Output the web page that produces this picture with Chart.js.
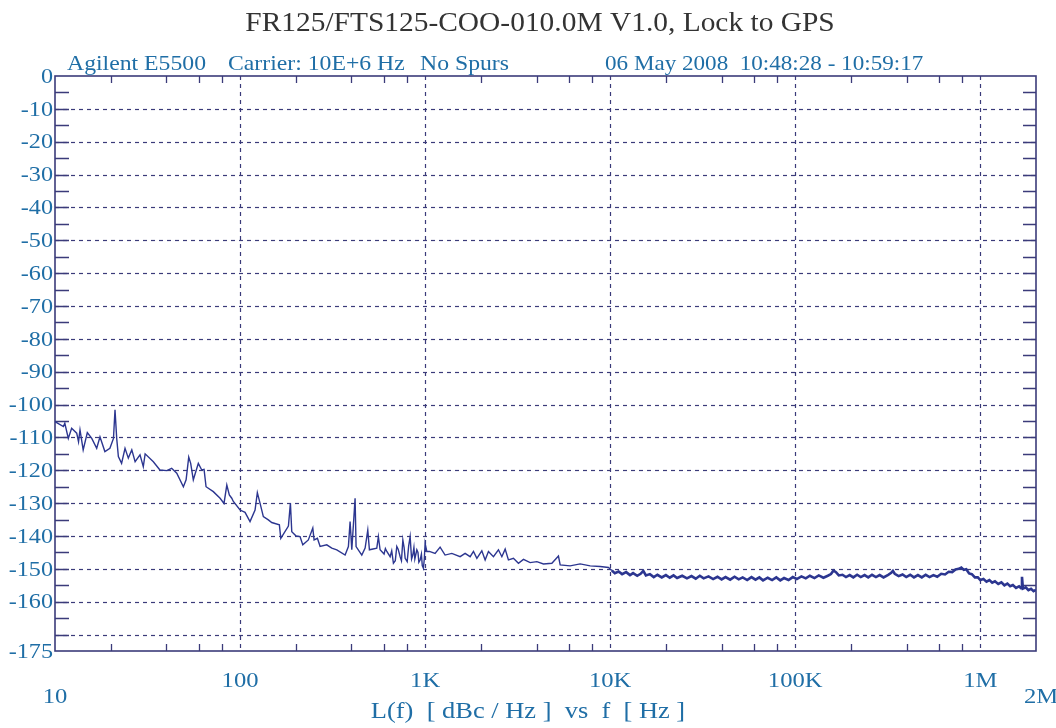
<!DOCTYPE html>
<html>
<head>
<meta charset="utf-8">
<style>
  html, body { margin: 0; padding: 0; background: #ffffff; }
  #wrap { width: 1056px; height: 728px; }
</style>
</head>
<body>
<div id="wrap"><canvas id="noiseChart" width="1056" height="728"></canvas></div>
<script src="https://cdn.jsdelivr.net/npm/chart.js"></script>
<script>
  // phase noise, 10 Hz .. 10 kHz
  const freqLow = [10, 11.1, 11.3, 11.8, 12.3, 13.1, 13.4, 13.65, 14.2, 14.95, 15.8, 16.8, 17.5, 18.6, 19.8, 20.7, 21.1, 21.55, 22.0, 22.9,
    23.9, 24.9, 26.0, 27.1, 28.8, 30.0, 30.7, 34.0, 36.9, 40.2, 42.7, 45.5, 49.4, 51.1, 52.8, 54.1, 55.9, 59.5, 62.1, 63.9,
    65.5, 71.7, 78.0, 81.9, 84.8, 87.5, 90.2, 92, 100, 106.4, 113.2, 120.5, 124.0, 128.2, 133.6, 142.2, 148.3, 163.1, 166, 182.5,
    187.1, 190.3, 200.9, 211, 218.3, 233.9, 247.2, 251.2, 261.8, 270.7, 294.1, 313.1, 333.2, 369.5, 385, 393.2, 401.6, 409.7, 418.4, 423.6,
    454.8, 474, 490, 500, 548, 559, 571, 600, 610, 621, 647, 660, 674, 690, 703, 715, 733, 745, 758, 770,
    780, 800, 815, 830, 845, 858, 870, 880, 902, 915, 925, 940, 955, 965, 979, 990, 1000, 1021, 1055, 1132,
    1205, 1282, 1394, 1546, 1645, 1751, 1825, 1904, 2025, 2110, 2199, 2340, 2490, 2598, 2707, 2820, 3001, 3194, 3400, 3695,
    4016, 4361, 4841, 5254, 5368, 6077, 6883, 7797, 8830, 9790, 10210];
  const dbLow = [-105.2, -106.7, -105.7, -110.3, -107.2, -108.7, -111.3, -107.7, -113.8, -108.5, -110.3, -113.3, -109.8, -114.3, -113.3, -110.3, -101.6, -110.3, -115.8, -117.9,
    -113.3, -116.3, -113.8, -117.4, -115.3, -118.9, -115.0, -117.4, -119.9, -120.1, -119.4, -120.9, -125.0, -122.9, -116.0, -117.9, -122.9, -117.9, -119.9, -119.7,
    -125.0, -126.5, -128.5, -130.1, -124.5, -127.5, -128.5, -129.5, -132.1, -132.8, -135.6, -132.1, -126.8, -130.0, -134.1, -135.1, -135.9, -136.6, -140.7, -137.0,
    -130.0, -138.7, -140.0, -140.2, -142.7, -141.2, -137.6, -141.2, -140.7, -143.2, -142.7, -143.7, -144.2, -145.8, -143.2, -135.6, -144.2, -136.6, -128.5, -143.2,
    -145.8, -143.7, -138.2, -144.2, -143.7, -140.2, -144.2, -145.5, -143.8, -144.7, -146.3, -144.5, -148.3, -147.5, -143.2, -144.0, -146.3, -147.5, -141.2, -143.5,
    -146.8, -147.8, -143.0, -140.2, -147.0, -145.8, -143.5, -147.0, -144.2, -145.0, -148.0, -147.3, -145.5, -149.0, -149.8, -147.0, -142.2, -144.7, -144.7, -145.3,
    -143.4, -145.8, -145.3, -146.3, -145.3, -146.3, -144.7, -146.8, -144.5, -147.3, -144.7, -146.3, -144.2, -146.3, -144.0, -147.3, -146.8, -148.3, -147.1, -148.1,
    -147.8, -148.5, -148.3, -146.1, -148.8, -149.1, -148.5, -149.1, -149.3, -149.6, -150.5];

  // 10 kHz .. 2 MHz, noisy floor
  const freqHigh = [10210, 10600, 11100, 11600, 12200, 12800, 13300, 14000, 14600, 15100, 15600, 16400, 17200, 18000, 19000, 20000, 21000, 22000, 23000, 24500,
    26000, 27500, 29000, 30500, 32000, 34000, 36000, 38000, 40000, 42000, 44500, 47000, 49500, 52000, 55000, 58000, 61000, 64000, 67000, 71000,
    75000, 79000, 83000, 87000, 92000, 97000, 102000, 108000, 114000, 120000, 127000, 134000, 142000, 150000, 156000, 161000, 166000, 172000, 180000, 188000,
    197000, 206000, 216000, 226000, 237000, 248000, 260000, 273000, 286000, 300000, 318000, 330000, 337000, 345000, 362000, 380000, 398000, 418000, 438000, 460000,
    483000, 507000, 532000, 558000, 585000, 615000, 645000, 675000, 705000, 735000, 765000, 790000, 815000, 840000, 870000, 900000, 935000, 970000, 1000000, 1040000,
    1080000, 1120000, 1160000, 1200000, 1250000, 1300000, 1350000, 1400000, 1450000, 1500000, 1560000, 1620000, 1660000, 1680000, 1700000, 1760000, 1820000, 1880000, 1940000, 2000000];
  const dbHigh = [-150.5, -151.3, -150.8, -151.6, -151.0, -151.9, -151.3, -152.1, -151.5, -150.6, -152.0, -151.6, -152.5, -151.8, -152.6, -151.9, -152.7, -152.0, -152.8, -152.1,
    -152.9, -152.2, -153.0, -152.1, -152.9, -152.3, -153.1, -152.4, -153.2, -152.5, -153.3, -152.4, -153.2, -152.6, -153.4, -152.5, -153.3, -152.6, -153.5, -152.7,
    -153.4, -152.6, -153.5, -152.8, -153.4, -152.5, -153.1, -152.3, -152.9, -152.1, -152.8, -152.0, -152.7, -152.1, -151.6, -150.5, -151.0, -152.0, -151.8, -152.5,
    -151.9, -152.6, -151.8, -152.5, -151.9, -152.6, -151.8, -152.5, -151.9, -152.6, -151.8, -151.2, -150.6, -151.5, -152.2, -151.7, -152.5, -151.8, -152.6, -151.9,
    -152.6, -151.8, -152.5, -151.9, -152.4, -151.5, -151.7, -150.9, -151.0, -150.2, -150.0, -149.6, -150.3, -150.1, -151.4, -151.6, -152.6, -152.6, -153.4, -153.1,
    -153.9, -153.4, -154.2, -153.8, -154.6, -154.1, -155.0, -154.5, -155.3, -154.9, -155.8, -155.3, -155.9, -152.4, -156.0, -155.6, -156.5, -156.1, -156.8, -156.4];

  const yTickValues = [0, -10, -20, -30, -40, -50, -60, -70, -80, -90, -100, -110, -120, -130, -140, -150, -160, -175];
  const xTickValues = [10, 100, 1000, 10000, 100000, 1000000, 2000000];
  const xTickText = ["10", "100", "1K", "10K", "100K", "1M", "2M"];

  const titleText = "FR125/FTS125-COO-010.0M V1.0, Lock to GPS";
  const axisTitle = "L(f)  [ dBc / Hz ]  vs  f  [ Hz ]";

  const serif = '"Liberation Serif", "DejaVu Serif", serif';
  const blue = "#1f6ea6";
  const navy = "#3b3b7a";
  const lineColor = "#2c3690";

  function toPoints(xs, ys) {
    return xs.map((x, i) => ({ x: x, y: ys[i] }));
  }

  // the original printout uses a slightly wide serif, so stretch text a bit
  function wideText(ctx, text, x, y, sx) {
    ctx.save();
    ctx.translate(x, y);
    ctx.scale(sx, 1);
    ctx.fillText(text, 0, 0);
    ctx.restore();
  }

  const frame = {
    id: "phaseNoiseFrame",
    beforeDatasetsDraw(chart) {
      const { ctx, chartArea: a, scales } = chart;
      const xs = scales.x, ys = scales.y;
      ctx.save();
      ctx.strokeStyle = navy;
      // dashed grid
      ctx.lineWidth = 1.2;
      ctx.setLineDash([4, 4]);
      for (let v = -10; v >= -170; v -= 10) {
        const py = Math.round(ys.getPixelForValue(v)) + 0.5;
        ctx.beginPath(); ctx.moveTo(a.left, py); ctx.lineTo(a.right, py); ctx.stroke();
      }
      [100, 1000, 10000, 100000, 1000000].forEach(v => {
        const px = Math.round(xs.getPixelForValue(v)) + 0.5;
        ctx.beginPath(); ctx.moveTo(px, a.top); ctx.lineTo(px, a.bottom); ctx.stroke();
      });
      ctx.setLineDash([]);
      // y ticks inside, both sides, every 5 dB
      ctx.lineWidth = 1.5;
      for (let v = -5; v > -175; v -= 5) {
        const py = Math.round(ys.getPixelForValue(v)) + 0.5;
        ctx.beginPath();
        ctx.moveTo(a.left, py); ctx.lineTo(a.left + 14, py);
        ctx.moveTo(a.right, py); ctx.lineTo(a.right - 13, py);
        ctx.stroke();
      }
      // x minor ticks at 2,4,6,8 of each decade
      ctx.lineWidth = 1.3;
      for (let d = 10; d < 2000000; d *= 10) {
        [2, 4, 6, 8].forEach(m => {
          const v = d * m;
          if (v >= 2000000) return;
          const px = Math.round(xs.getPixelForValue(v)) + 0.5;
          ctx.beginPath();
          ctx.moveTo(px, a.top); ctx.lineTo(px, a.top + 7);
          ctx.moveTo(px, a.bottom); ctx.lineTo(px, a.bottom - 7);
          ctx.stroke();
        });
      }
      // border
      ctx.lineWidth = 1.6;
      ctx.strokeRect(a.left, a.top, a.right - a.left, a.bottom - a.top);
      ctx.restore();
    },
    afterDraw(chart) {
      const { ctx, chartArea: a, scales } = chart;
      const xs = scales.x, ys = scales.y;
      ctx.save();
      // title
      ctx.fillStyle = "#333333";
      ctx.font = "27px " + serif;
      ctx.textAlign = "center";
      ctx.textBaseline = "alphabetic";
      wideText(ctx, titleText, 540, 31, 1.09);
      // header line
      ctx.fillStyle = blue;
      ctx.font = "21px " + serif;
      ctx.textAlign = "left";
      wideText(ctx, "Agilent E5500", 67, 70, 1.13);
      wideText(ctx, "Carrier: 10E+6 Hz", 228, 70, 1.13);
      wideText(ctx, "No Spurs", 420, 70, 1.13);
      wideText(ctx, "06 May 2008  10:48:28 - 10:59:17", 605, 70, 1.1);
      // y labels
      ctx.font = "22px " + serif;
      ctx.textAlign = "right";
      ctx.textBaseline = "middle";
      yTickValues.forEach(v => {
        wideText(ctx, String(v), a.left - 2, ys.getPixelForValue(v) + 1, 1.1);
      });
      // x labels
      ctx.textAlign = "center";
      xTickValues.forEach((v, i) => {
        let px = xs.getPixelForValue(v);
        let py = a.bottom + 30;
        if (i === 0) { py = a.bottom + 46; }
        if (i === xTickValues.length - 1) { px += 5; py = a.bottom + 46; }
        wideText(ctx, xTickText[i], px, py, 1.12);
      });
      ctx.font = "23px " + serif;
      wideText(ctx, axisTitle, 528, 712, 1.15);
      ctx.restore();
    }
  };

  new Chart(document.getElementById("noiseChart"), {
    type: "line",
    data: {
      datasets: [
        {
          data: toPoints(freqLow, dbLow),
          borderColor: lineColor,
          borderWidth: 1.4,
          pointRadius: 0,
          tension: 0,
        },
        {
          data: toPoints(freqHigh, dbHigh),
          borderColor: lineColor,
          borderWidth: 2.6,
          pointRadius: 0,
          tension: 0,
        },
      ],
    },
    options: {
      responsive: false,
      animation: false,
      layout: { padding: { left: 55, right: 20, top: 76, bottom: 77 } },
      scales: {
        x: { type: "logarithmic", min: 10, max: 2000000, display: false },
        y: { type: "linear", min: -175, max: 0, display: false },
      },
      plugins: {
        legend: { display: false },
        tooltip: { enabled: false },
      },
    },
    plugins: [frame],
  });
</script>
</body>
</html>
